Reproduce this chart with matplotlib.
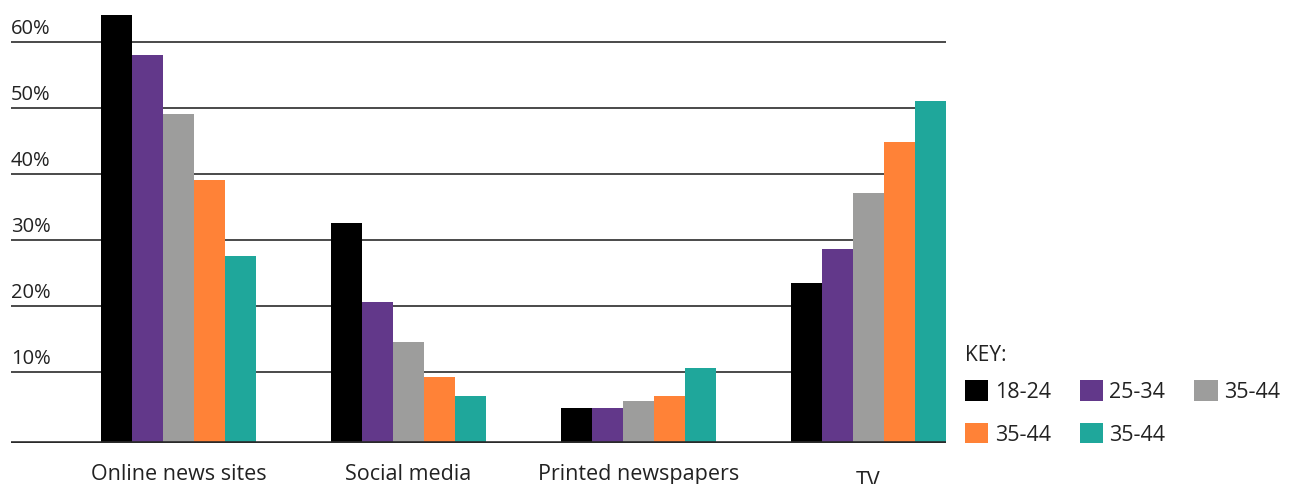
import matplotlib
matplotlib.use("Agg")
from matplotlib import pyplot as plt
from matplotlib.transforms import ScaledTranslation, blended_transform_factory
import numpy as np

## Donnees
categories = ["Online news sites", "Social media", "Printed newspapers", "TV"]
age_groups = ["18-24", "25-34", "35-44", "35-44", "35-44"]
values = [
    [64, 32.5, 4.5, 23.4],    # 18-24
    [58, 20.5, 4.5, 28.6],    # 25-34
    [49, 14.5, 5.5, 37],      # 35-44
    [39, 9.2, 6.3, 44.8],     # 35-44
    [27.5, 6.3, 10.5, 51],    # 35-44
]
colors = ["#000000", "#62388A", "#9D9D9C", "#FF8237", "#1FA79B"]
yticks = [10, 20, 30, 40, 50, 60]

plt.rcParams['font.family'] = ['Open Sans', 'DejaVu Sans']

fig = plt.figure(figsize=(12.95, 4.84), dpi=100)
ax = fig.add_axes([11/1295, 41/484, 935/1295, 443/484])

x = np.arange(len(categories))
w = 0.135
y0 = -0.83  # bars start at the drawn baseline
bars = []
for i, (serie, c) in enumerate(zip(values, colors)):
    pos = x + (i - 2) * w
    b = ax.bar(pos, np.array(serie) - y0, width=w, bottom=y0, color=c,
               label=age_groups[i], zorder=3, linewidth=0)
    bars.append(b)

ax.set_xlim(-0.728, 3.337)
ax.set_ylim(y0, 66.3)

# grille
for v in yticks:
    ax.axhline(v, color="#3c3c3c", lw=1.3, zorder=1)
ax.axhline(y0, color="#2a2a2a", lw=2.6, zorder=4)

trans = blended_transform_factory(ax.transAxes, ax.transData)
for v in yticks:
    ax.text(0, v, f"{v}%", transform=trans + ScaledTranslation(0, 2/72, fig.dpi_scale_trans),
            ha="left", va="bottom", fontsize=14.5, color="#222222")

ax.set_yticks([])
ax.set_xticks(x)
ax.set_xticklabels(categories, fontsize=15.5, color="#222222")
ax.tick_params(axis="x", length=0, pad=15)
tv = ax.get_xticklabels()[-1]
tv.set_transform(tv.get_transform() + ScaledTranslation(0, -5/72, fig.dpi_scale_trans))
for s in ax.spines.values():
    s.set_visible(False)

# legende remplie ligne par ligne
ordre = [0, 3, 1, 4, 2]
leg = fig.legend([bars[k] for k in ordre], [age_groups[k] for k in ordre],
                 loc="upper left", bbox_to_anchor=(946/1295, 1 - 326/484), ncol=3,
                 title="KEY:", frameon=False, fontsize=15.5, title_fontsize=15,
                 handlelength=1.07, handleheight=1.07, handletextpad=0.3,
                 columnspacing=1.35, labelspacing=0.95, alignment="left")
leg._legend_box.sep = 10
for t in leg.get_texts():
    t.set_color("#222222")
leg.get_title().set_color("#222222")

plt.savefig("out.png", dpi=100)
